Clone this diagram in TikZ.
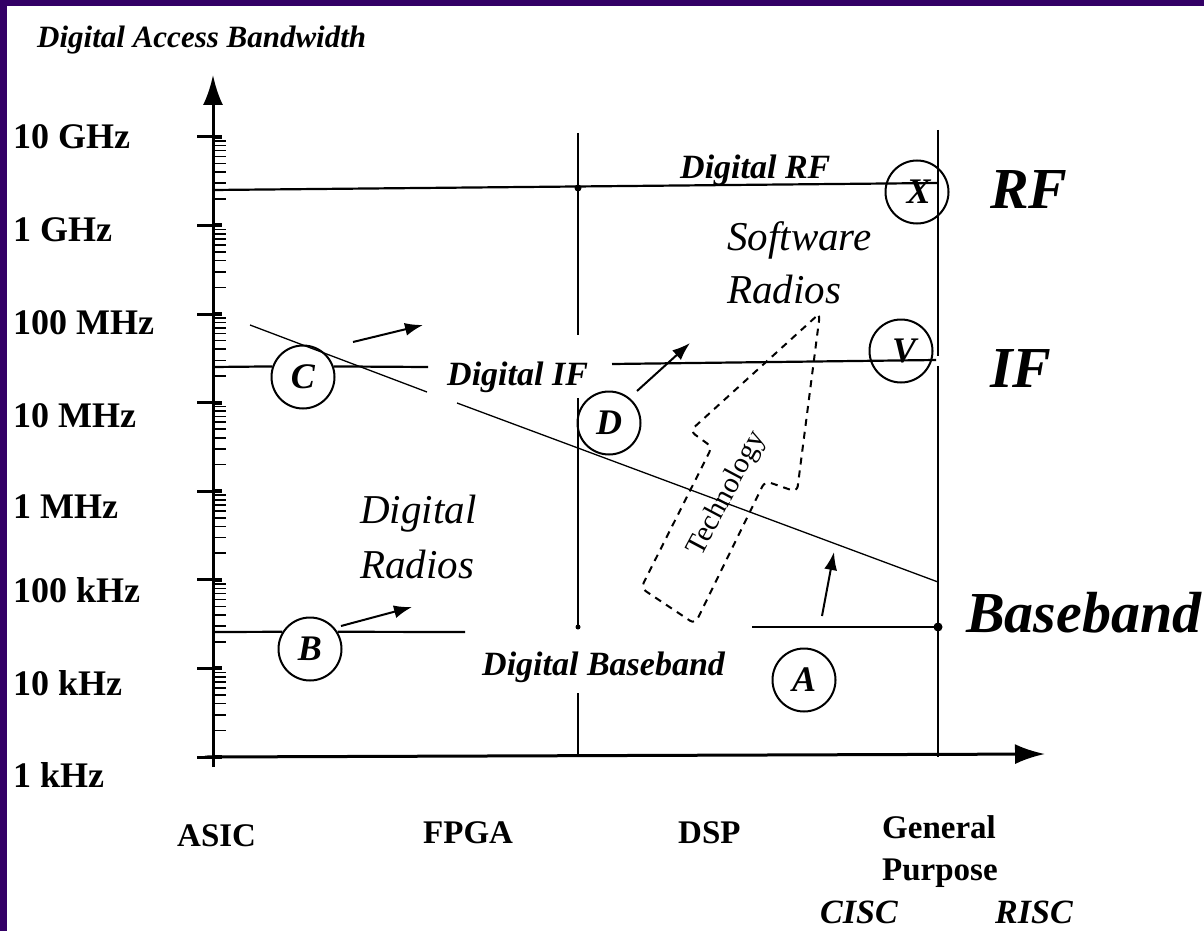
\documentclass[tikz,border=0pt]{standalone}
\usepackage{fontspec}
\setmainfont{Liberation Serif}
\usetikzlibrary{arrows.meta}
\definecolor{framecol}{RGB}{51,0,102}
\begin{document}
\begin{tikzpicture}[x=1pt,y=-1pt,
  axisline/.style={line width=3pt},
  ln/.style={line width=2.2pt},
  thinln/.style={line width=1.3pt},
  letcirc/.style={circle, draw, line width=2pt, minimum size=63pt, inner sep=0pt, font=\fontsize{36}{36}\selectfont\bfseries\itshape},
  ticklab/.style={font=\fontsize{36}{36}\selectfont\bfseries, anchor=base west, inner sep=0pt},
  catlab/.style={font=\fontsize{33}{33}\selectfont\bfseries, anchor=base west, inner sep=0pt},
  catit/.style={font=\fontsize{34}{34}\selectfont\bfseries\itshape, anchor=base west, inner sep=0pt},
  dlab/.style={font=\fontsize{34}{34}\selectfont\bfseries\itshape, anchor=base west, inner sep=0pt},
  biglab/.style={font=\fontsize{58}{58}\selectfont\bfseries\itshape, anchor=base west, inner sep=0pt},
  radlab/.style={font=\fontsize{41}{41}\selectfont\itshape, anchor=base west, inner sep=0pt},
  arr/.style={line width=2pt, -{Latex[length=18pt,width=13pt]}},
  axarr/.style={axisline, -{Latex[length=30pt,width=20pt]}},
  techbox/.style={line width=2pt, dash pattern=on 7pt off 6pt, rounded corners=6pt}
]
\useasboundingbox (0,0) rectangle (1204,931);
\fill[white] (0,0) rectangle (1204,931);
\fill[framecol] (0,0) rectangle (1204,6);
\fill[framecol] (0,0) rectangle (7,931);

% axes
\coordinate (ybot) at (213,767);
\coordinate (ytop) at (213,75);
\coordinate (orig) at (205,757);
\coordinate (xend) at (1045,754);
\draw[axarr] (ybot) -- (ytop);
\draw[axarr] (orig) -- (xend);

% ticks
\foreach \k in {0,...,7} {
  \pgfmathsetmacro\yy{757-88.6*\k}
  \draw[line width=3pt] (197,\yy) -- (213,\yy);
  \draw[line width=4pt] (213,\yy) -- (222,\yy);
}
\foreach \k in {0,...,6} {
  \foreach \m in {2,...,9} {
    \pgfmathsetmacro\yy{757-88.6*\k-88.6*ln(\m)/ln(10)}
    \draw[line width=1.6pt] (213,\yy) -- (226,\yy);
  }
}

% y labels
\node[ticklab] (l10g) at (13,148) {10 GHz};
\node[ticklab] (l1g) at (13,241) {1 GHz};
\node[ticklab] (l100m) at (13,334) {100 MHz};
\node[ticklab] (l10m) at (13,427) {10 MHz};
\node[ticklab] (l1m) at (13,518) {1 MHz};
\node[ticklab] (l100k) at (13,602) {100 kHz};
\node[ticklab] (l10k) at (13,695) {10 kHz};
\node[ticklab] (l1k) at (13,787) {1 kHz};

\node[font=\fontsize{31}{31}\selectfont\bfseries\itshape, anchor=base west, inner sep=0pt] (title) at (37,48) {Digital Access Bandwidth};

% x labels
\node[catlab] (asic) at (177,846) {ASIC};
\node[catlab] (fpga) at (423,843) {FPGA};
\node[catlab] (dsp) at (678,843) {DSP};
\node[catlab] (gen) at (882,838) {General};
\node[catlab] (purp) at (882,880) {Purpose};
\node[catit] (cisc) at (820,923) {CISC};
\node[catit] (risc) at (995,923) {RISC};

% circles
\node[letcirc] (C) at (303,377) {\raisebox{-4pt}{C}};
\node[letcirc] (B) at (310,649) {\raisebox{-4pt}{B}};
\node[letcirc] (D) at (609,423) {\raisebox{-5pt}{D}};
\node[letcirc] (A) at (804,680) {\raisebox{-7pt}{A}};
\node[letcirc] (X) at (917,192) {\hspace*{3pt}\raisebox{-5pt}{X}};
\node[letcirc] (V) at (901,351) {\hspace*{6pt}\raisebox{-3pt}{V}};

% RF line
\coordinate (rf0) at (213,190);
\coordinate (rf1) at (938,183);
\draw[ln] (rf0) -- (rf1);
\fill (578,188) circle (3.5pt);

% IF line
\coordinate (if0) at (213,367);
\coordinate (if1) at (428,367);
\coordinate (if2) at (612,364);
\coordinate (if3) at (936,360);
\draw[ln] (if0) -- (C.161);
\draw[ln] (C.19) -- (if1);
\draw[ln] (if2) -- (if3);

% Baseband line
\coordinate (bb0) at (213,632);
\coordinate (bb1) at (465,632);
\coordinate (bb2) at (752,627);
\coordinate (bb3) at (938,627);
\draw[ln] (bb0) -- (B.148);
\draw[ln] (B.32) -- (bb1);
\draw[ln] (bb2) -- (bb3);
\fill (bb3) circle (4.5pt);

% vertical lines
\draw[ln] (578,133) -- (578,335);
\draw[ln] (578,398) -- (578,627);
\fill (578,627) circle (2.5pt);
\draw[ln] (578,693) -- (578,757);
\draw[ln] (938,130) -- (938,356);
\draw[ln] (938,366) -- (938,757);

% technology trend line
\draw[thinln] (250,325) -- (427,392);
\draw[thinln] (457,403) -- (938,582);

% arrows
\coordinate (ca) at (353,342); \coordinate (cb) at (423,325);
\coordinate (ba) at (341,626); \coordinate (bb) at (412,607);
\coordinate (da) at (637,391); \coordinate (db) at (690,343);
\coordinate (aa) at (822,616); \coordinate (ab) at (834,552);
\draw[arr] (ca) -- (cb);
\draw[arr] (ba) -- (bb);
\draw[arr] (da) -- (db);
\draw[arr] (aa) -- (ab);

% text labels
\node[dlab] (drf) at (680,178) {Digital RF};
\node[dlab] (dif) at (447,385) {Digital IF};
\node[dlab] (dbb) at (482,675) {Digital Baseband};
\node[biglab] (rf) at (990,208) {RF};
\node[biglab] (if) at (990,387) {IF};
\node[biglab] (bbl) at (966,632) {Baseband};
\node[radlab] (sw1) at (727,250) {Software};
\node[radlab] (sw2) at (727,303) {Radios};
\node[radlab] (dr1) at (360,523) {Digital};
\node[radlab] (dr2) at (360,578) {Radios};

% technology arrow
\draw[techbox] (820,313) -- (690,431) -- (712,447) -- (641,588) -- (695,624) -- (765,481) -- (797,492) -- cycle;
\node[rotate=62, font=\fontsize{29}{29}\selectfont, inner sep=0pt] (tech) at (727,494) {Technology};
\end{tikzpicture}
\end{document}
